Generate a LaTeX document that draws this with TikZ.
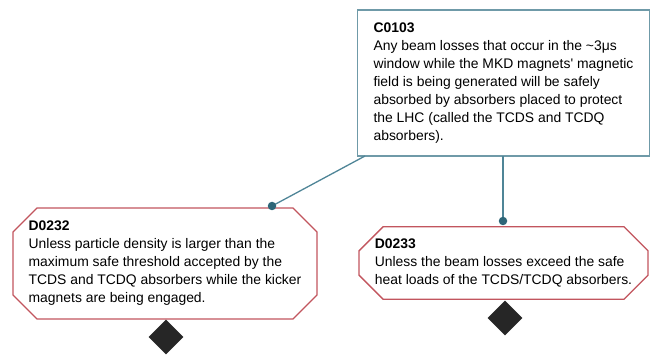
\documentclass[tikz,border=0pt]{standalone}
\usepackage{fontspec}
\setmainfont{Liberation Sans}
\usetikzlibrary{shapes.misc,shapes.geometric}
\definecolor{boxline}{HTML}{6F9AA8}
\definecolor{conn}{HTML}{4F8597}
\definecolor{dotc}{HTML}{2E6678}
\definecolor{redline}{HTML}{C2555E}
\definecolor{diam}{HTML}{262626}
\tikzset{
  txt/.style={font=\fontsize{13.9}{18}\selectfont, align=left},
  claim/.style={draw=boxline, line width=1.3pt, fill=white, rectangle, inner sep=0pt, txt},
  ctx/.style={draw=redline, line width=1.3pt, fill=white, chamfered rectangle, chamfered rectangle xsep=12pt, chamfered rectangle ysep=12pt, inner sep=0pt, txt},
  conline/.style={draw=conn, line width=1.3pt},
  dotn/.style={circle, fill=dotc, inner sep=0pt, minimum size=8.5pt},
  dia/.style={diamond, fill=diam, inner sep=0pt, minimum width=35pt, minimum height=35pt}
}
\begin{document}
\begin{tikzpicture}[x=1pt,y=-1pt]
\useasboundingbox (0,0) rectangle (656,358);
% nodes
\node[claim, minimum width=292pt, minimum height=146pt] (c0103) at (503.5,83)
{\textbf{C0103}\\Any beam losses that occur in the \textasciitilde3μs\\window while the MKD magnets\textquotesingle{} magnetic\\field is being generated will be safely\\absorbed by absorbers placed to protect\\the LHC (called the TCDS and TCDQ\\absorbers).};
\node[ctx, minimum width=304pt, minimum height=111pt] (d0232) at (165,263.5)
{\textbf{D0232}\\Unless particle density is larger than the\\maximum safe threshold accepted by the\\TCDS and TCDQ absorbers while the kicker\\magnets are being engaged.};
\node[ctx, minimum width=289pt, minimum height=72pt] (d0233) at (503.5,263)
{\textbf{D0233}\\Unless the beam losses exceed the safe\\heat loads of the TCDS/TCDQ absorbers.};
\node[dia] (g1) at (166,337) {};
\node[dia] (g2) at (505,318) {};
% connector endpoints
\coordinate (a1) at (272,206);
\coordinate (b1) at (365,156);
\coordinate (a2) at (503,221);
\coordinate (b2) at (503,156);
\draw[conline] (a1) -- (b1);
\draw[conline] (a2) -- (b2);
\node[dotn] (p1) at (a1) {};
\node[dotn] (p2) at (a2) {};
\end{tikzpicture}
\end{document}
